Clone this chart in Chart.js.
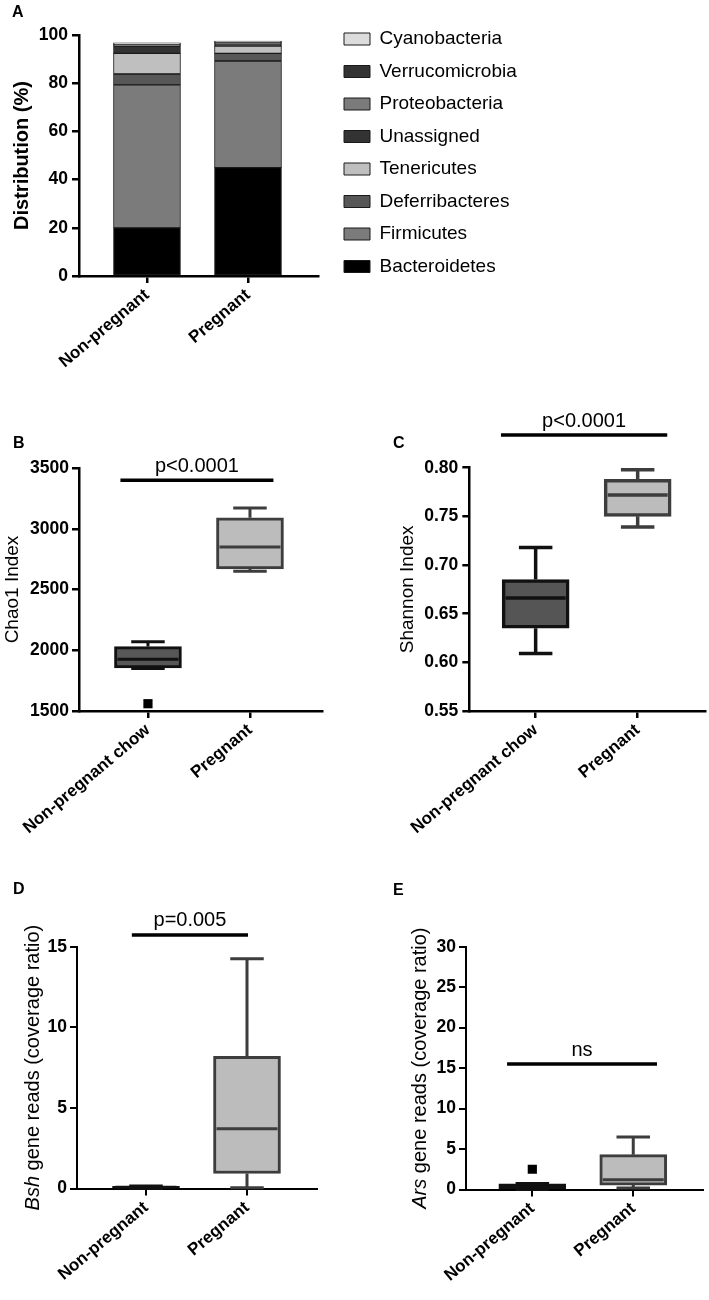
<!DOCTYPE html>
<html>
<head>
<meta charset="utf-8">
<title>Gut microbiota, non-pregnant vs pregnant</title>
<script src="https://cdn.jsdelivr.net/npm/chart.js@4.4.1/dist/chart.umd.min.js"></script>
<style>
  body { margin: 0; background: #fff; }
  .panel { position: absolute; }
</style>
</head>
<body>
<canvas id="chartA" class="panel" width="709" height="395" style="left:0px;top:0px"></canvas>
<canvas id="chartB" class="panel" width="330" height="450" style="left:0px;top:400px"></canvas>
<canvas id="chartC" class="panel" width="319" height="450" style="left:390px;top:400px"></canvas>
<canvas id="chartD" class="panel" width="325" height="440" style="left:0px;top:860px"></canvas>
<canvas id="chartE" class="panel" width="319" height="440" style="left:390px;top:860px"></canvas>
<script>
Chart.defaults.font.family = "'Liberation Sans', Arial, sans-serif";
Chart.defaults.color = '#000';

// ---- data ----
const groups = ['Non-pregnant', 'Pregnant'];
const groupsChow = ['Non-pregnant chow', 'Pregnant'];

// A: phylum distribution (%), [non-pregnant, pregnant]
const phyla = ['Bacteroidetes', 'Firmicutes', 'Deferribacteres', 'Tenericutes',
  'Unassigned', 'Proteobacteria', 'Verrucomicrobia', 'Cyanobacteria'];
const bacteroidetes = [20.0, 45.0];
const firmicutes = [59.3, 44.2];
const deferribacteres = [4.5, 3.2];
const tenericutes = [8.6, 3.0];
const unassigned = [3.0, 0.9];
const proteobacteria = [0.4, 0.4];
const verrucomicrobia = [0.4, 0.5];
const cyanobacteria = [0.6, 0.3];

// B-E: box plots, each [min, q1, median, q3, max]
const chao1NonPregnant = [1850, 1855, 1925, 2030, 2070];
const chao1Pregnant = [2650, 2670, 2850, 3090, 3170];
const chao1Outliers = [[1560], []];
const shannonNonPregnant = [0.609, 0.635, 0.666, 0.685, 0.718];
const shannonPregnant = [0.739, 0.750, 0.772, 0.788, 0.798];
const bshNonPregnant = [0, 0.02, 0.08, 0.14, 0.16];
const bshPregnant = [0.05, 0.93, 3.7, 8.2, 14.25];
const arsNonPregnant = [0, 0.05, 0.3, 0.7, 0.75];
const arsPregnant = [0.2, 0.55, 1.2, 4.3, 6.5];
const arsOutliers = [[2.5], []];

// ---- styles ----
const phylumColors = ['#000000', '#7b7b7b', '#575757', '#bfbfbf', '#333333', '#7b7b7b', '#333333', '#dcdcdc'];
const FONT = "'Liberation Sans', Arial, sans-serif";

function linearX(labels, min, max, height, lw) {
  return {
    type: 'linear', min: min, max: max, bounds: 'data', stacked: true, offset: false,
    afterBuildTicks: s => { s.ticks = labels.map((_, i) => ({value: i})); },
    afterFit: s => { s.height = height; },
    ticks: {autoSkip: false, minRotation: 40, maxRotation: 40, padding: 2,
      font: {size: 17, weight: 'bold'}, callback: v => labels[v]},
    grid: {offset: false, drawOnChartArea: false, color: '#000', lineWidth: lw, tickLength: 7},
    border: {color: '#000', width: lw}
  };
}

function valueY(o) {
  return {
    min: o.min, max: o.max, stacked: !!o.stacked,
    afterFit: s => { s.width = o.width; },
    ticks: {stepSize: o.step, padding: o.pad, font: {size: 17.5, weight: 'bold'},
      callback: o.format || (v => String(v))},
    grid: {drawOnChartArea: false, color: '#000', lineWidth: o.lw, tickLength: 7},
    border: {color: '#000', width: o.lw},
    title: o.title
      ? {display: true, text: o.title, font: o.titleFont, padding: {top: o.titlePad, bottom: 0}}
      : {display: false}
  };
}

// A: stacked bars
const phylumValues = [bacteroidetes, firmicutes, deferribacteres, tenericutes,
  unassigned, proteobacteria, verrucomicrobia, cyanobacteria];
const hiddenAxis = {display: true, ticks: {display: false}, grid: {display: false}, border: {display: false}};

new Chart('chartA', {
  type: 'bar',
  data: {
    datasets: phyla.map((name, k) => ({
      label: name,
      data: phylumValues[k].map((v, i) => ({x: i, y: v})),
      yAxisID: 'y',
      backgroundColor: phylumColors[k],
      borderColor: '#1a1a1a',
      borderWidth: 1,
      borderSkipped: false,
      barThickness: 67
    }))
  },
  options: {
    responsive: false, animation: false, devicePixelRatio: 1,
    layout: {padding: {left: 12, top: 0, right: 0, bottom: 4}},
    plugins: {
      tooltip: {enabled: false},
      title: {display: true, text: 'A', align: 'start', font: {size: 16, weight: 'bold'},
        padding: {top: 3, bottom: 12.8}},
      legend: {
        position: 'right', align: 'start', reverse: true, maxWidth: 320,
        title: {display: true, text: '', font: {size: 10}, padding: {top: 4, bottom: 0}},
        labels: {boxWidth: 26, boxHeight: 12, padding: 13.5, font: {size: 19}, color: '#000'}
      }
    },
    scales: {
      x: linearX(groups, -0.673, 1.693, 115, 2.5),
      y: valueY({min: 0, max: 100, step: 20, width: 67, pad: 4, stacked: true, lw: 2.5,
        title: 'Distribution (%)', titleFont: {size: 20, weight: 'bold'}, titlePad: -1.5}),
      // spacer between plot and legend, and spacer right of the legend
      gap: Object.assign({position: 'right', weight: 0, afterFit: s => { s.width = 12.5; }}, hiddenAxis),
      pad: Object.assign({position: 'right', weight: 2000,
        afterFit: s => { s.width = Math.max(0, 709 - 330.5 - (s.chart.legend ? s.chart.legend.width : 0)); }}, hiddenAxis)
    }
  }
});

// B-E: box plots from floating bars + whiskers drawn on the same scales
function boxChart(id, c) {
  const boxPlot = {
    id: 'boxPlot',
    beforeDatasetsDraw(chart) {
      const {ctx, scales: {x, y}} = chart;
      const bars = chart.getDatasetMeta(0).data;
      ctx.save();
      ctx.lineWidth = c.lw;
      c.stats.forEach((s, i) => {
        const cx = x.getPixelForValue(i);
        const cap = bars[i].width / 4;
        const yMin = y.getPixelForValue(s[0]), yQ1 = y.getPixelForValue(s[1]);
        const yQ3 = y.getPixelForValue(s[3]), yMax = y.getPixelForValue(s[4]);
        ctx.strokeStyle = c.lines[i];
        ctx.beginPath();
        ctx.moveTo(cx, yQ1); ctx.lineTo(cx, yMin);
        ctx.moveTo(cx, yQ3); ctx.lineTo(cx, yMax);
        ctx.moveTo(cx - cap, yMin); ctx.lineTo(cx + cap, yMin);
        ctx.moveTo(cx - cap, yMax); ctx.lineTo(cx + cap, yMax);
        ctx.stroke();
      });
      ctx.restore();
    },
    afterDatasetsDraw(chart) {
      const {ctx, chartArea: area, scales: {x, y}} = chart;
      const bars = chart.getDatasetMeta(0).data;
      ctx.save();
      ctx.lineWidth = c.lw;
      c.stats.forEach((s, i) => {
        const cx = x.getPixelForValue(i);
        const half = bars[i].width / 2 - c.lw;
        const ym = y.getPixelForValue(s[2]);
        ctx.strokeStyle = c.lines[i];
        ctx.beginPath();
        ctx.moveTo(cx - half, ym); ctx.lineTo(cx + half, ym);
        ctx.stroke();
      });

      // significance line
      const b = c.bracket;
      const yb = y.getPixelForValue(b.value);
      const x0 = x.getPixelForValue(b.from), x1 = x.getPixelForValue(b.to);
      ctx.strokeStyle = '#000';
      ctx.lineWidth = 3.5;
      ctx.beginPath();
      ctx.moveTo(x0, yb); ctx.lineTo(x1, yb);
      ctx.stroke();
      ctx.fillStyle = '#000';
      ctx.font = '20px ' + FONT;
      ctx.textAlign = 'center';
      ctx.textBaseline = 'middle';
      ctx.fillText(b.text, (x0 + x1) / 2, yb - 14);

      // y title with italic gene name
      if (c.yTitle) {
        const parts = c.yTitle.parts;
        const fonts = parts.map(p => p[1] + ' 20px ' + FONT);
        const widths = parts.map((p, k) => { ctx.font = fonts[k]; return ctx.measureText(p[0]).width; });
        const total = widths.reduce((a, w) => a + w, 0);
        ctx.translate(area.left - c.yTitle.offset, (area.top + area.bottom) / 2);
        ctx.rotate(-Math.PI / 2);
        ctx.textAlign = 'left';
        let tx = -total / 2;
        parts.forEach((p, k) => {
          ctx.font = fonts[k];
          ctx.fillText(p[0], tx, 0);
          tx += widths[k];
        });
      }
      ctx.restore();
    }
  };

  return new Chart(id, {
    type: 'bar',
    data: {
      datasets: [{
        data: c.stats.map((s, i) => ({x: i, y: [s[1], s[3]]})),
        backgroundColor: c.fills,
        borderColor: c.lines,
        borderWidth: c.lw,
        borderSkipped: false,
        barThickness: 67
      }, {
        type: 'scatter',
        data: c.outliers.flatMap((vals, i) => vals.map(v => ({x: i, y: v}))),
        pointStyle: 'rect',
        pointRadius: 6.5,
        pointBackgroundColor: '#000',
        pointBorderWidth: 0
      }]
    },
    options: {
      responsive: false, animation: false, devicePixelRatio: 1,
      layout: {padding: c.padding},
      plugins: {
        legend: {display: false},
        tooltip: {enabled: false},
        title: {display: true, text: c.letter, align: 'start',
          font: {size: 16, weight: 'bold'}, padding: c.letterPad}
      },
      scales: {
        x: linearX(c.labels, c.xMin, c.xMax, c.xHeight, c.axisLw),
        y: valueY(c.y)
      }
    },
    plugins: [boxPlot]
  });
}

boxChart('chartB', {
  letter: 'B', letterPad: {top: 33.5, bottom: 15.3},
  padding: {left: 13, top: 0, right: 8, bottom: 0},
  labels: groupsChow, xMin: -0.676, xMax: 1.706, xHeight: 139, axisLw: 2.5,
  stats: [chao1NonPregnant, chao1Pregnant], outliers: chao1Outliers,
  fills: ['#575757', '#bcbcbc'], lines: ['#111111', '#3d3d3d'], lw: 3,
  y: {min: 1500, max: 3500, step: 500, width: 66, pad: 3, lw: 2.5,
    title: 'Chao1 Index', titleFont: {size: 19}, titlePad: -11.4},
  bracket: {value: 3400, from: -0.27, to: 1.23, text: 'p<0.0001'}
});

boxChart('chartC', {
  letter: 'C', letterPad: {top: 33.5, bottom: 15},
  padding: {left: 3, top: 0, right: 4, bottom: 0},
  labels: groupsChow, xMin: -0.65, xMax: 1.66, xHeight: 139, axisLw: 2.5,
  stats: [shannonNonPregnant, shannonPregnant], outliers: [[], []],
  fills: ['#555555', '#bcbcbc'], lines: ['#111111', '#3d3d3d'], lw: 3.5,
  y: {min: 0.55, max: 0.8, step: 0.05, width: 73, pad: 4, lw: 2.5, format: v => v.toFixed(2),
    title: 'Shannon Index', titleFont: {size: 19}, titlePad: -0.4},
  bracket: {value: 0.8335, from: -0.34, to: 1.29, text: 'p<0.0001'}
});

boxChart('chartD', {
  letter: 'D', letterPad: {top: 19.5, bottom: 48},
  padding: {left: 13, top: 0, right: 8, bottom: 0},
  labels: groups, xMin: -0.683, xMax: 1.693, xHeight: 111.5, axisLw: 2,
  stats: [bshNonPregnant, bshPregnant], outliers: [[], []],
  fills: ['#111111', '#bcbcbc'], lines: ['#111111', '#3d3d3d'], lw: 3,
  y: {min: 0, max: 15, step: 5, width: 64, pad: 3, lw: 2},
  yTitle: {parts: [['Bsh', 'italic'], [' gene reads (coverage ratio)', 'normal']], offset: 44},
  bracket: {value: 15.73, from: -0.14, to: 1.01, text: 'p=0.005'}
});

boxChart('chartE', {
  letter: 'E', letterPad: {top: 20.5, bottom: 47},
  padding: {left: 3, top: 0, right: 4, bottom: 0},
  labels: groups, xMin: -0.657, xMax: 1.686, xHeight: 110.5, axisLw: 2,
  stats: [arsNonPregnant, arsPregnant], outliers: arsOutliers,
  fills: ['#111111', '#bcbcbc'], lines: ['#111111', '#3d3d3d'], lw: 3,
  y: {min: 0, max: 30, step: 5, width: 73, pad: 3, lw: 2},
  yTitle: {parts: [['Ars', 'italic'], [' gene reads (coverage ratio)', 'normal']], offset: 46},
  bracket: {value: 15.5, from: -0.25, to: 1.235, text: 'ns'}
});
</script>
</body>
</html>
